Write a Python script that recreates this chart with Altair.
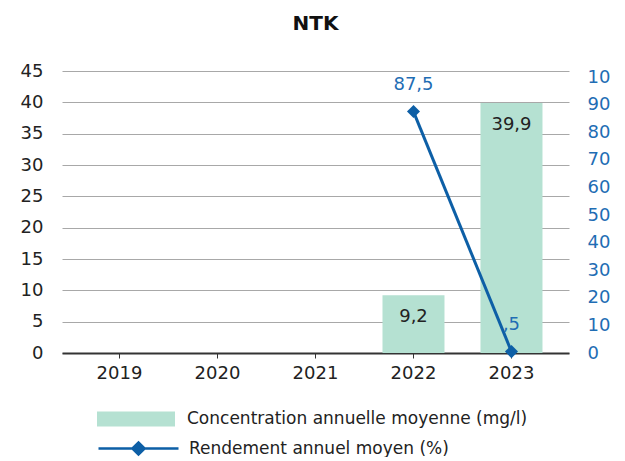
import altair as alt
import pandas as pd

years = ["2019", "2020", "2021", "2022", "2023"]
concentration = [None, None, None, 9.2, 39.9]
rendement = [None, None, None, 87.5, 0.5]
conc_labels = ["", "", "", "9,2", "39,9"]
rend_labels = ["", "", "", "87,5", ",5"]
left_ticks = [0, 5, 10, 15, 20, 25, 30, 35, 40, 45]
right_ticks = [0, 10, 20, 30, 40, 50, 60, 70, 80, 90, 100]

SERIES_BAR = "Concentration annuelle moyenne (mg/l)"
SERIES_LINE = "Rendement annuel moyen (%)"

df = pd.DataFrame({
    "year": years,
    "conc": concentration,
    "rend": rendement,
    "conc_label": conc_labels,
    "rend_label": rend_labels,
    "s_bar": SERIES_BAR,
    "s_line": SERIES_LINE,
})

FONT = "DejaVu Sans"
GREEN = "#b5e1d2"
BLUE = "#0d5fa6"
LBLUE = "#1f6db4"
AX = 18

x = alt.X("year:N", sort=years,
          scale=alt.Scale(domain=years, paddingInner=0.37, paddingOuter=0.272),
          axis=alt.Axis(title=None, labelAngle=0, domainColor="#333333", domainWidth=2,
                        tickColor="#333333", tickSize=5, labelPadding=6, labelFontSize=AX,
                        labelFont=FONT, labelColor="#222222", grid=False))

yl_scale = alt.Scale(domain=[0, 45], nice=False)
yr_scale = alt.Scale(domain=[0, 102.2], nice=False)

yl_axis = alt.Axis(title=None, orient="left", values=left_ticks, grid=True,
                   gridColor="#a8a8a8", domain=False, ticks=False, labelPadding=19,
                   labelFontSize=AX, labelFont=FONT, labelColor="#222222")
yr_axis = alt.Axis(title=None, orient="right", values=right_ticks, grid=False,
                   domain=False, ticks=False, labelPadding=18,
                   labelExpr="datum.value == 100 ? '10' : datum.label",
                   labelFontSize=AX, labelFont=FONT, labelColor=LBLUE)

base = alt.Chart(df)

bars = base.transform_filter("isValid(datum.conc)").mark_bar(size=62).encode(
    x=x, y=alt.Y("conc:Q", scale=yl_scale, axis=yl_axis),
    fill=alt.Fill("s_bar:N", scale=alt.Scale(range=[GREEN]),
                  legend=alt.Legend(title=None, orient="none", legendX=35, legendY=309,
                                    symbolType="M-1,-0.19H1V0.19H-1Z", symbolSize=6084,
                                    symbolStrokeWidth=0, labelFont=FONT, labelFontSize=17,
                                    labelColor="#222222", labelOffset=12, labelLimit=0)),
)
bar_text = base.transform_filter("isValid(datum.conc)").mark_text(
    dy=22, font=FONT, fontSize=18, color="#222222", baseline="middle").encode(
    x=x, y=alt.Y("conc:Q", scale=yl_scale, axis=yl_axis),
    text="conc_label:N")

line = base.transform_filter("isValid(datum.rend)").mark_line(strokeWidth=3).encode(
    x=x, y=alt.Y("rend:Q", scale=yr_scale, axis=yr_axis),
    stroke=alt.Stroke("s_line:N", scale=alt.Scale(range=[BLUE]),
                      legend=alt.Legend(title=None, orient="none", legendX=35, legendY=336,
                                        symbolType="M-1,0H-0.15L0,-0.15L0.15,0H1M0.15,0L0,0.15L-0.15,0",
                                        symbolSize=6400, symbolStrokeWidth=2.5,
                                        symbolFillColor=BLUE,
                                        labelFont=FONT, labelFontSize=17,
                                        labelColor="#222222", labelOffset=9, labelLimit=0)),
)
pts = base.transform_filter("isValid(datum.rend)").mark_point(
    shape="diamond", filled=True, size=170, color=BLUE, opacity=1).encode(
    x=x, y=alt.Y("rend:Q", scale=yr_scale, axis=yr_axis))
line_text = base.transform_filter("isValid(datum.rend)").mark_text(
    dy=-27, dx=0, font=FONT, fontSize=18, color=LBLUE, baseline="middle").encode(
    x=x, y=alt.Y("rend:Q", scale=yr_scale, axis=yr_axis),
    text="rend_label:N")

left = alt.layer(bars, bar_text)
right = alt.layer(line, pts, line_text)

chart = alt.layer(left, right).resolve_scale(
    y="independent", fill="independent", stroke="independent"
).properties(
    width=507, height=282,
    title=alt.TitleParams("NTK", fontSize=20, font=FONT, fontWeight="bold",
                          anchor="middle", offset=28, color="#111111"),
    autosize=alt.AutoSizeParams(type="none"),
    padding={"left": 54, "top": 63, "right": 48, "bottom": 104},
).configure_view(stroke=None)

chart.save("out.html", embed_options={"renderer": "svg", "actions": False})
